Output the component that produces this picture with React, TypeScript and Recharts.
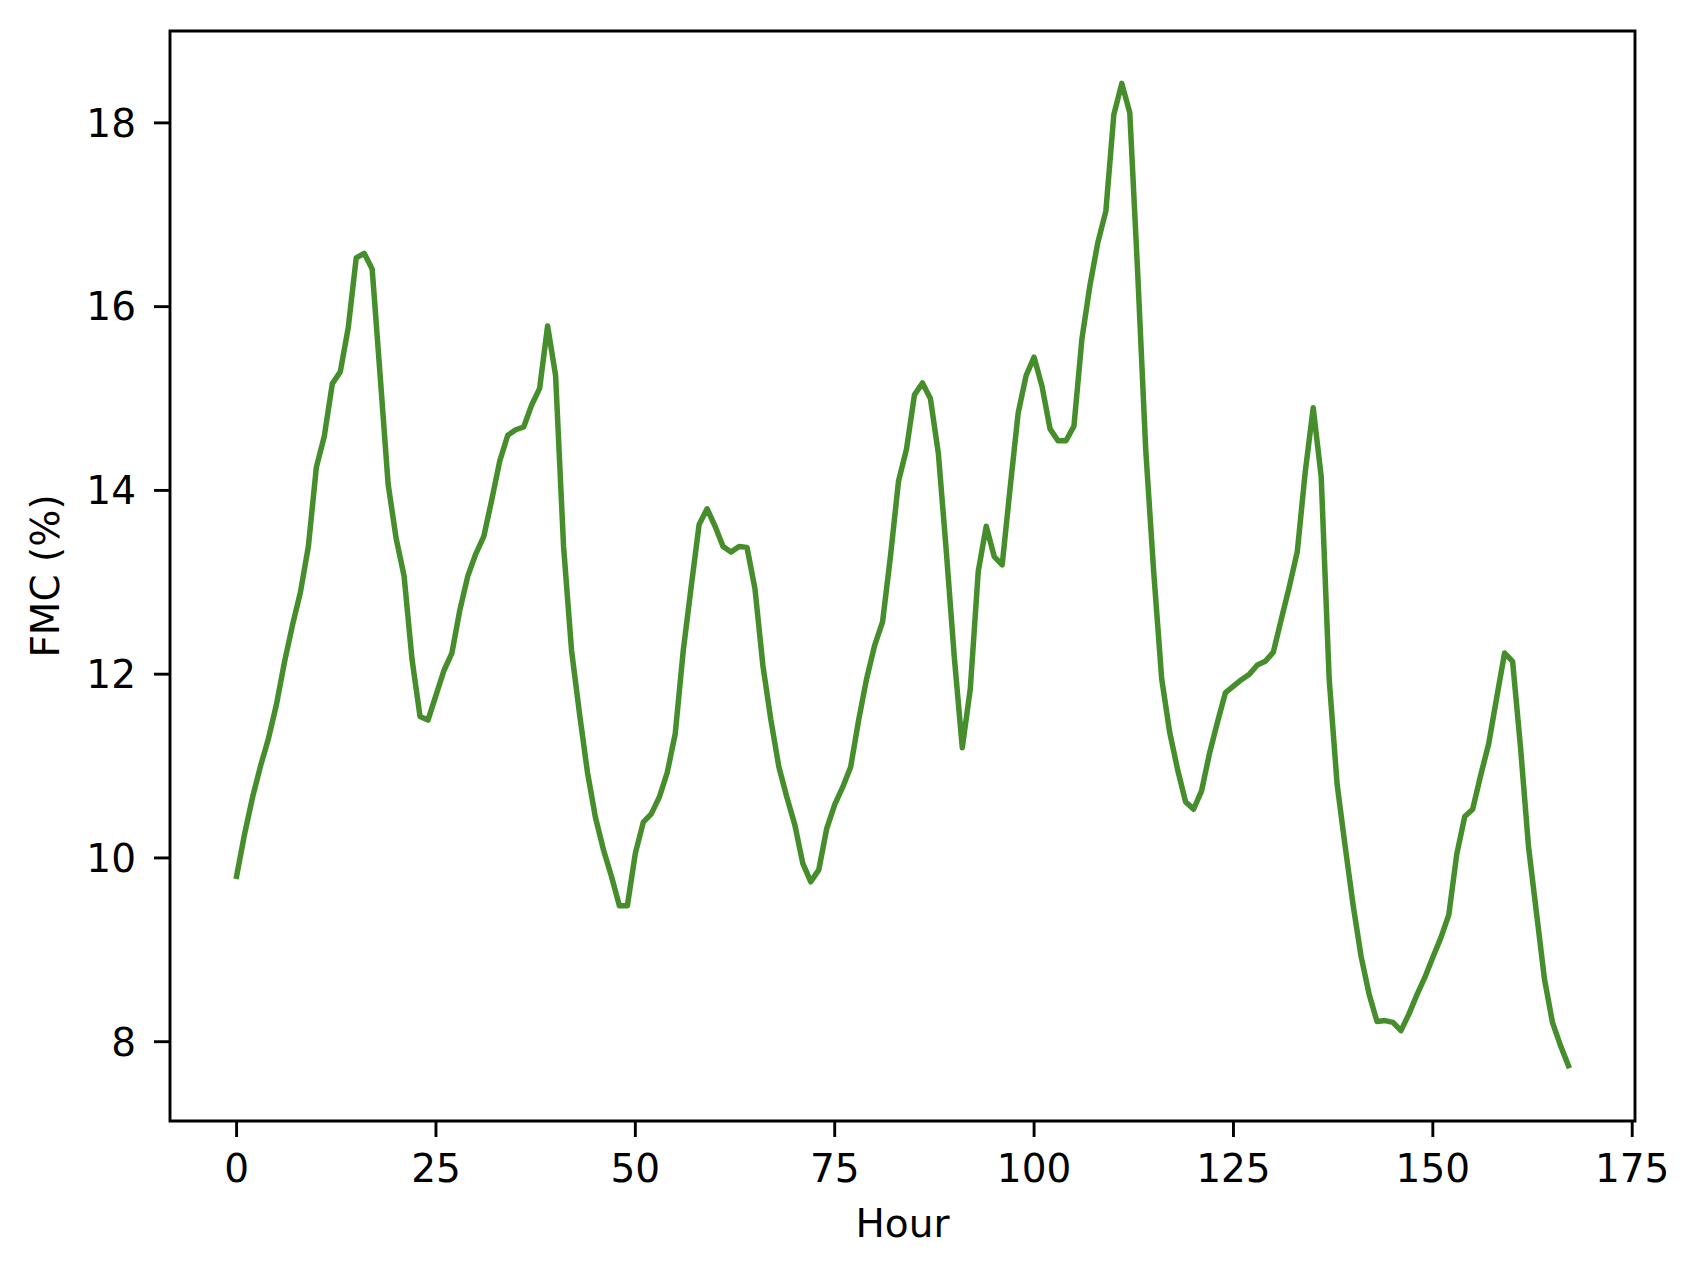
import { LineChart, Line, XAxis, YAxis, ReferenceArea, Label } from 'recharts'

// hourly fuel moisture content (hour 0..167)
const fmc = [
  9.8, 10.26, 10.66, 11.0, 11.3, 11.67, 12.13, 12.53, 12.89, 13.39,
  14.25, 14.59, 15.16, 15.29, 15.77, 16.53, 16.58, 16.41, 15.25, 14.07,
  13.48, 13.07, 12.16, 11.54, 11.5, 11.77, 12.04, 12.23, 12.7, 13.07,
  13.31, 13.5, 13.9, 14.32, 14.6, 14.66, 14.69, 14.93, 15.11, 15.79,
  15.25, 13.39, 12.26, 11.57, 10.93, 10.44, 10.09, 9.8, 9.48, 9.48,
  10.05, 10.39, 10.48, 10.66, 10.93, 11.35, 12.25, 12.95, 13.63, 13.8,
  13.61, 13.39, 13.33, 13.39, 13.38, 12.93, 12.09, 11.5, 10.99, 10.66,
  10.36, 9.94, 9.74, 9.87, 10.32, 10.58, 10.77, 10.99, 11.5, 11.95,
  12.31, 12.57, 13.29, 14.1, 14.45, 15.04, 15.17, 15.0, 14.4, 13.33,
  12.18, 11.2, 11.84, 13.12, 13.61, 13.28, 13.19, 14.03, 14.84, 15.25,
  15.45, 15.13, 14.67, 14.54, 14.54, 14.7, 15.65, 16.23, 16.7, 17.04,
  18.09, 18.43, 18.11, 16.35, 14.44, 13.11, 11.95, 11.37, 10.96, 10.61,
  10.53, 10.73, 11.14, 11.48, 11.8, 11.87, 11.94, 12.0, 12.1, 12.14,
  12.24, 12.6, 12.95, 13.33, 14.2, 14.9, 14.15, 11.95, 10.8, 10.13,
  9.49, 8.93, 8.52, 8.22, 8.23, 8.21, 8.12, 8.3, 8.51, 8.7,
  8.92, 9.13, 9.38, 10.04, 10.45, 10.53, 10.9, 11.24, 11.74, 12.23,
  12.14, 11.2, 10.12, 9.4, 8.68, 8.21, 7.96, 7.74,
]
const hours = fmc.map((_, i) => i)

const xTicks = [0, 25, 50, 75, 100, 125, 150, 175]
const yTicks = [8, 10, 12, 14, 16, 18]
const xDomain: [number, number] = [-8.35, 175.35]
const yDomain: [number, number] = [7.137, 19.0]

const rows = hours.map((h, i) => ({ hour: h, fmc: fmc[i] }))

const FONT = 'DejaVu Sans'
const tickStyle = { fill: '#000', fontSize: 39, fontFamily: FONT }
const tickLine = { stroke: '#000', strokeWidth: 2.9 }

export default function App() {
  return (
    <div style={{ position: 'absolute', left: 0, top: 0, background: '#fff' }}>
      <LineChart
        width={1688}
        height={1270}
        data={rows}
        margin={{ top: 31, right: 53, left: 0, bottom: 0 }}
      >
        <XAxis
          dataKey="hour"
          type="number"
          domain={xDomain}
          ticks={xTicks}
          allowDataOverflow
          height={149}
          axisLine={false}
          tickLine={tickLine}
          tickSize={16}
          tickMargin={17}
          tick={tickStyle}
        >
          <Label
            content={({ viewBox }: any) => (
              <text
                x={viewBox.x + viewBox.width / 2}
                y={viewBox.y + 116}
                textAnchor="middle"
                fontSize={39}
                fontFamily={FONT}
                fill="#000"
              >
                Hour
              </text>
            )}
          />
        </XAxis>
        <YAxis
          type="number"
          domain={yDomain}
          ticks={yTicks}
          allowDataOverflow
          width={170}
          axisLine={false}
          tickLine={tickLine}
          tickSize={16}
          tickMargin={18}
          tick={tickStyle}
        >
          <Label
            content={({ viewBox }: any) => (
              <text
                transform={`translate(${viewBox.x + 59}, ${viewBox.y + viewBox.height / 2}) rotate(-90)`}
                textAnchor="middle"
                fontSize={39}
                fontFamily={FONT}
                fill="#000"
              >
                FMC (%)
              </text>
            )}
          />
        </YAxis>
        <ReferenceArea
          x1={xDomain[0]}
          x2={xDomain[1]}
          y1={yDomain[0]}
          y2={yDomain[1]}
          fill="none"
          stroke="#000"
          strokeWidth={2.9}
          ifOverflow="visible"
        />
        <Line
          type="linear"
          dataKey="fmc"
          stroke="#468e2c"
          strokeWidth={5.5}
          strokeLinejoin="round"
          strokeLinecap="square"
          dot={false}
          activeDot={false}
          isAnimationActive={false}
        />
      </LineChart>
    </div>
  )
}
